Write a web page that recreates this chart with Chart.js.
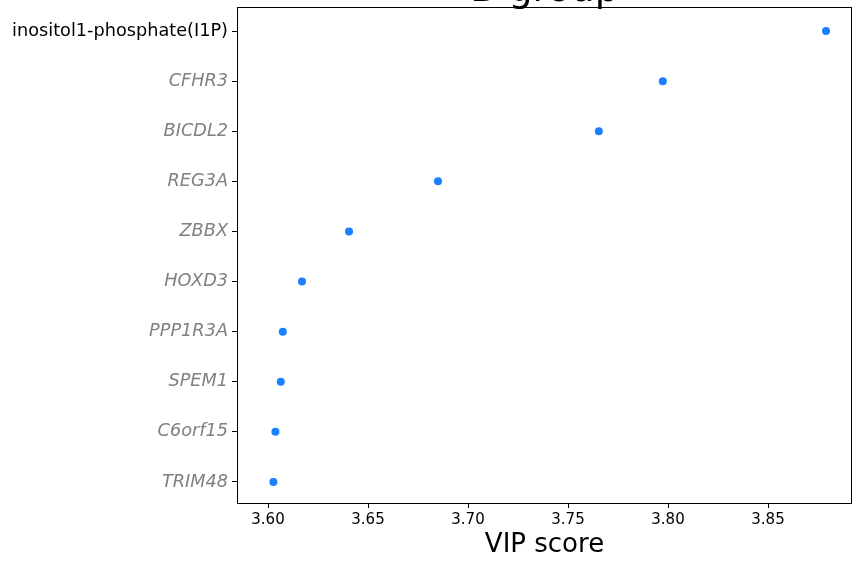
<!DOCTYPE html>
<html>
<head>
<meta charset="utf-8">
<script src="https://cdn.jsdelivr.net/npm/chart.js@4"></script>
<style>
  body { margin: 0; background: #fff; }
  canvas { display: block; }
</style>
</head>
<body>
<canvas id="vipChart" width="852" height="562"></canvas>
<script>
const features = ['inositol1-phosphate(I1P)', 'CFHR3', 'BICDL2', 'REG3A', 'ZBBX',
    'HOXD3', 'PPP1R3A', 'SPEM1', 'C6orf15', 'TRIM48']
const vipScores = [3.879, 3.7974, 3.7654, 3.685, 3.6405, 3.617, 3.6074, 3.6064, 3.6037, 3.6027]
const xTicks = [3.60, 3.65, 3.70, 3.75, 3.80, 3.85]
const chartTitle = 'B group'

const FONT = "'DejaVu Sans', sans-serif"

// box round the plot + title that sits mostly above the canvas
const frame = {
    id: 'frame',
    afterDraw(chart) {
        const { ctx, chartArea: a } = chart
        ctx.save()
        ctx.strokeStyle = '#000'
        ctx.lineWidth = 1
        ctx.strokeRect(a.left + 0.5, a.top + 0.5, a.right - a.left - 1, a.bottom - a.top)
        ctx.fillStyle = '#000'
        ctx.font = '38px ' + FONT
        ctx.textAlign = 'center'
        ctx.textBaseline = 'alphabetic'
        ctx.fillText(chartTitle, (a.left + a.right) / 2, 0.5)
        ctx.restore()
    },
}

const ctx = document.querySelector('#vipChart').getContext('2d')

const vipChart = new Chart(ctx, {
    type: 'scatter',
    data: {
        datasets: [
            {
                data: vipScores.map((v, i) => ({ x: v, y: i })),
                backgroundColor: '#1a80ff',
                borderWidth: 0,
                pointRadius: 4,
                pointHoverRadius: 4,
            },
        ],
    },
    options: {
        responsive: false,
        animation: false,
        layout: { autoPadding: false, padding: { top: 7, right: 0, left: 0, bottom: 0 } },
        plugins: {
            legend: { display: false },
            tooltip: { enabled: false },
        },
        scales: {
            x: {
                type: 'linear',
                min: 3.5845,
                max: 3.892,
                afterBuildTicks: (scale) => {
                    scale.ticks = xTicks.map((v) => ({ value: v }))
                },
                afterFit: (scale) => {
                    scale.height = 59
                    scale.paddingLeft = 0
                    scale.paddingRight = 0
                },
                grid: { drawOnChartArea: false, tickLength: 5, tickColor: '#000' },
                border: { display: true, color: '#000' },
                ticks: {
                    color: '#000',
                    font: { family: FONT, size: 15 },
                    padding: 3,
                    maxRotation: 0,
                    callback: (v) => v.toFixed(2),
                },
                title: {
                    display: true,
                    text: 'VIP score',
                    color: '#000',
                    font: { family: FONT, size: 26 },
                    padding: { top: 0, bottom: 1 },
                },
            },
            y: {
                type: 'linear',
                reverse: true,
                min: -0.48,
                max: 9.42,
                afterBuildTicks: (scale) => {
                    scale.ticks = features.map((_, i) => ({ value: i }))
                },
                afterFit: (scale) => {
                    scale.width = 237
                    scale.paddingTop = 0
                    scale.paddingBottom = 0
                },
                grid: { drawOnChartArea: false, tickLength: 5, tickColor: '#000' },
                border: { display: true, color: '#000' },
                ticks: {
                    padding: 4,
                    color: (c) => (c.index === 0 ? '#000' : '#808080'),
                    font: (c) => ({
                        family: FONT,
                        size: 17.7,
                        style: c.index === 0 ? 'normal' : 'italic',
                    }),
                    callback: (v) => features[v],
                },
            },
        },
    },
    plugins: [frame],
})
</script>
</body>
</html>
